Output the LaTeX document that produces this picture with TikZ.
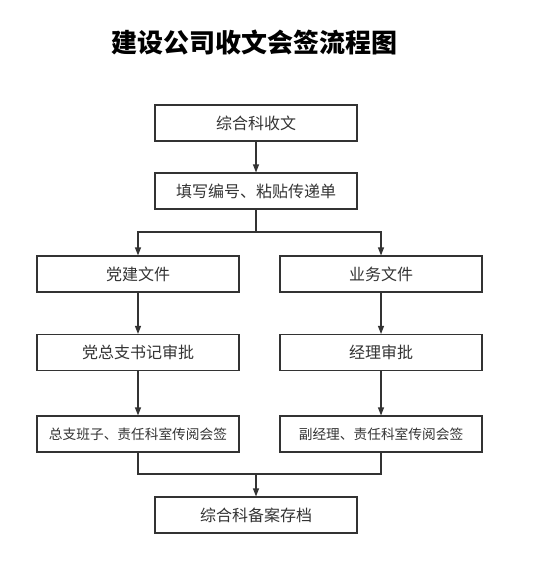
\documentclass[tikz,border=0pt]{standalone}
\usepackage{fontspec}
\setmainfont{Noto Sans CJK SC}
\newfontfamily\titlefont{Noto Sans CJK SC}
\usetikzlibrary{arrows.meta}
\definecolor{ink}{HTML}{333333}
\tikzset{
  flowbox/.style={draw=ink, line width=1.1pt, minimum width=202pt, minimum height=36pt, inner sep=0pt, text=ink, font=\fontsize{16}{19}\selectfont},
  smallbox/.style={flowbox, font=\fontsize{13.7}{16}\selectfont},
  link/.style={draw=ink, line width=1.1pt, -{Triangle[length=8pt,width=6pt]}},
  plain/.style={draw=ink, line width=1.1pt}
}
\begin{document}
\begin{tikzpicture}[x=1pt,y=-1pt]
\useasboundingbox (0,0) rectangle (534,579);
\node[font=\titlefont\fontsize{26}{30}\selectfont\bfseries] (title) at (254,43) {建设公司收文会签流程图};
\node[flowbox] (a) at (256,123) {综合科收文};
\node[flowbox] (b) at (256,191) {填写编号、粘贴传递单};
\node[flowbox] (l1) at (138,274) {党建文件};
\node[flowbox] (r1) at (381,274) {业务文件};
\node[flowbox] (l2) at (138,352.5) {党总支书记审批};
\node[flowbox] (r2) at (381,352.5) {经理审批};
\node[smallbox] (l3) at (138,434) {总支班子、责任科室传阅会签};
\node[smallbox] (r3) at (381,434) {副经理、责任科室传阅会签};
\node[flowbox] (f) at (256,515) {综合科备案存档};
\coordinate (split) at (256,232);
\coordinate (merge) at (256,474);
\draw[link] (a) -- (b);
\draw[plain] (b) -- (split);
\draw[link] (split) -| (l1);
\draw[link] (split) -| (r1);
\draw[link] (l1) -- (l2);
\draw[link] (r1) -- (r2);
\draw[link] (l2) -- (l3);
\draw[link] (r2) -- (r3);
\draw[plain] (l3) |- (merge);
\draw[plain] (r3) |- (merge);
\draw[link] (merge) -- (f);
\end{tikzpicture}
\end{document}
